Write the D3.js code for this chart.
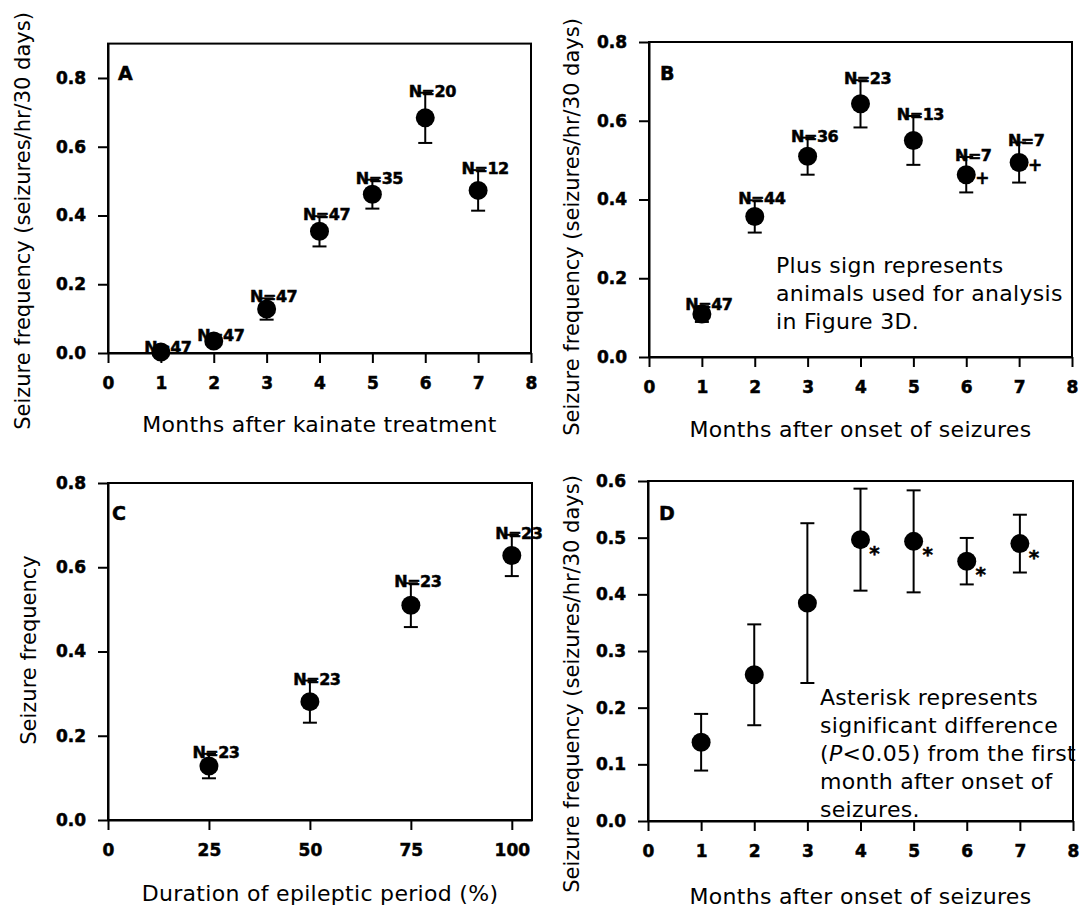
<!DOCTYPE html>
<html>
<head>
<meta charset="utf-8">
<script src="https://cdn.jsdelivr.net/npm/d3@7"></script>
<style>
  body { margin: 0; background: #fff; }
  svg { display: block; font-family: "DejaVu Sans", sans-serif; }
</style>
</head>
<body>
<svg id="chart" width="1082" height="914"></svg>
<script>
// panel A: months after kainate treatment
var monthsA = [1, 2, 3, 4, 5, 6, 7];
var meanA = [0.003, 0.035, 0.128, 0.354, 0.462, 0.684, 0.473];
var semA = [0.008, 0.012, 0.031, 0.044, 0.042, 0.073, 0.059];
var nA = [47, 47, 47, 47, 35, 20, 12];

// panel B: months after onset of seizures
var monthsB = [1, 2, 3, 4, 5, 6, 7];
var meanB = [0.109, 0.357, 0.51, 0.643, 0.55, 0.463, 0.494];
var semB = [0.02, 0.041, 0.047, 0.06, 0.062, 0.045, 0.051];
var nB = [47, 44, 36, 23, 13, 7, 7];
var plusB = [6, 7];

// panel C: duration of epileptic period (%)
var durationC = [25, 50, 75, 100];
var meanC = [0.128, 0.281, 0.51, 0.628];
var semC = [0.029, 0.05, 0.052, 0.049];
var nC = [23, 23, 23, 23];

// panel D: months after onset (selected animals)
var monthsD = [1, 2, 3, 4, 5, 6, 7];
var meanD = [0.139, 0.258, 0.3845, 0.4965, 0.4935, 0.4585, 0.4895];
var semD = [0.05, 0.089, 0.141, 0.09, 0.09, 0.041, 0.051];
var starD = [4, 5, 6, 7];

var ticksMonths = [0, 1, 2, 3, 4, 5, 6, 7, 8];
var ticksDuration = [0, 25, 50, 75, 100];
var ticksY8 = [0, 0.2, 0.4, 0.6, 0.8];
var ticksY6 = [0, 0.1, 0.2, 0.3, 0.4, 0.5, 0.6];

var svg = d3.select("#chart");
var fmt = d3.format(".1f");

// bold labels in the scan are heavy, thicken them a bit
var heavy = function(sel) {
  sel.attr("font-weight", "bold").attr("stroke", "#000").attr("stroke-width", 0.5);
};

var panel = function(p) {
  var x = d3.scaleLinear().domain(p.xDomain).range([p.left, p.right]);
  var y = d3.scaleLinear().domain(p.yDomain).range([p.bottom, p.top]);
  var g = svg.append("g");

  g.append("rect")
    .attr("x", p.left).attr("y", p.top)
    .attr("width", p.right - p.left).attr("height", p.bottom - p.top)
    .attr("fill", "none").attr("stroke", "#000").attr("stroke-width", 2);

  var xa = g.append("g").attr("transform", "translate(0," + p.bottom + ")")
    .call(d3.axisBottom(x).tickValues(p.xTicks).tickSize(10).tickSizeOuter(0).tickPadding(14));
  var ya = g.append("g").attr("transform", "translate(" + p.left + ",0)")
    .call(d3.axisLeft(y).tickValues(p.yTicks).tickFormat(fmt).tickSize(10).tickSizeOuter(0).tickPadding(12));
  [xa, ya].forEach(function(a) {
    a.attr("font-family", "DejaVu Sans").attr("font-size", 17);
    a.selectAll("path, line").attr("stroke", "#000").attr("stroke-width", 2);
    a.selectAll("text").attr("fill", "#000").call(heavy);
  });

  var pts = p.xs.map(function(d, i) {
    return { x: d, m: p.mean[i], e: p.sem[i], n: p.n ? p.n[i] : null };
  });

  var eb = g.selectAll(".eb").data(pts).enter().append("g");
  eb.append("line")
    .attr("x1", function(d) { return x(d.x) }).attr("x2", function(d) { return x(d.x) })
    .attr("y1", function(d) { return y(d.m - d.e) }).attr("y2", function(d) { return y(d.m + d.e) })
    .attr("stroke", "#000").attr("stroke-width", 2);
  [-1, 1].forEach(function(s) {
    eb.append("line")
      .attr("x1", function(d) { return x(d.x) - 7 }).attr("x2", function(d) { return x(d.x) + 7 })
      .attr("y1", function(d) { return y(d.m + s * d.e) }).attr("y2", function(d) { return y(d.m + s * d.e) })
      .attr("stroke", "#000").attr("stroke-width", 2);
  });
  g.selectAll(".pt").data(pts).enter().append("circle")
    .attr("cx", function(d) { return x(d.x) })
    .attr("cy", function(d) { return y(d.m) })
    .attr("r", 9.5).attr("fill", "#000");

  if (p.n) {
    g.selectAll(".nl").data(pts).enter().append("text")
      .attr("x", function(d) { return x(d.x) + 7 })
      .attr("y", function(d) { return y(d.m + d.e) + 4 })
      .attr("text-anchor", "middle").attr("font-size", 16)
      .attr("letter-spacing", -0.5)
      .call(heavy)
      .text(function(d) { return "N=" + d.n });
  }

  if (p.marks) {
    g.selectAll(".mk").data(pts.filter(function(d) { return p.marks.indexOf(d.x) >= 0 })).enter()
      .append("text")
      .attr("x", function(d) { return x(d.x) + p.markDx })
      .attr("y", function(d) { return y(d.m) + p.markDy })
      .attr("text-anchor", "middle").attr("font-size", p.markSize)
      .call(heavy)
      .text(p.markText);
  }

  g.append("text").attr("x", p.letterX).attr("y", p.letterY)
    .attr("font-size", 19).call(heavy).text(p.letter);

  g.append("text").attr("x", (p.left + p.right) / 2).attr("y", p.xTitleY)
    .attr("text-anchor", "middle").attr("font-size", 22).attr("letter-spacing", 0.3)
    .text(p.xTitle);

  g.append("text")
    .attr("transform", "translate(" + p.yTitleX + "," + p.yTitleY + ") rotate(-90)")
    .attr("text-anchor", "middle").attr("font-size", 21).text(p.yTitle);

  if (p.note) {
    var t = g.append("text").attr("font-size", 22).attr("letter-spacing", 0.3);
    p.note.forEach(function(line, i) {
      var ts = t.append("tspan").attr("x", p.noteX).attr("y", p.noteY + i * 28);
      if (Array.isArray(line)) {
        line.forEach(function(seg) {
          ts.append("tspan").attr("font-style", seg.italic ? "italic" : null).text(seg.t);
        });
      } else {
        ts.text(line);
      }
    });
  }
};

var yLong = "Seizure frequency (seizures/hr/30 days)";

panel({
  left: 108, right: 531, top: 43.6, bottom: 353,
  xDomain: [0, 8], yDomain: [0, 0.9], xTicks: ticksMonths, yTicks: ticksY8,
  xs: monthsA, mean: meanA, sem: semA, n: nA,
  letter: "A", letterX: 118, letterY: 80,
  xTitle: "Months after kainate treatment", xTitleY: 432,
  yTitle: yLong, yTitleX: 30, yTitleY: 221
});

panel({
  left: 649, right: 1072, top: 42, bottom: 357,
  xDomain: [0, 8], yDomain: [0, 0.8], xTicks: ticksMonths, yTicks: ticksY8,
  xs: monthsB, mean: meanB, sem: semB, n: nB,
  marks: plusB, markText: "+", markDx: 16, markDy: 9, markSize: 17,
  letter: "B", letterX: 660, letterY: 80,
  xTitle: "Months after onset of seizures", xTitleY: 437,
  yTitle: yLong, yTitleX: 579, yTitleY: 227,
  note: ["Plus sign represents", "animals used for analysis", "in Figure 3D."],
  noteX: 776, noteY: 273
});

panel({
  left: 108, right: 532, top: 483, bottom: 820,
  xDomain: [0, 105], yDomain: [0, 0.8], xTicks: ticksDuration, yTicks: ticksY8,
  xs: durationC, mean: meanC, sem: semC, n: nC,
  letter: "C", letterX: 112, letterY: 520,
  xTitle: "Duration of epileptic period (%)", xTitleY: 901,
  yTitle: "Seizure frequency", yTitleX: 36, yTitleY: 650
});

panel({
  left: 648, right: 1073, top: 481, bottom: 821,
  xDomain: [0, 8], yDomain: [0, 0.6], xTicks: ticksMonths, yTicks: ticksY6,
  xs: monthsD, mean: meanD, sem: semD,
  marks: starD, markText: "*", markDx: 14, markDy: 20, markSize: 20,
  letter: "D", letterX: 659, letterY: 520,
  xTitle: "Months after onset of seizures", xTitleY: 904,
  yTitle: yLong, yTitleX: 579, yTitleY: 684,
  note: ["Asterisk represents", "significant difference",
         [{ t: "(" }, { t: "P", italic: true }, { t: "<0.05) from the first" }],
         "month after onset of", "seizures."],
  noteX: 820, noteY: 705
});
</script>
</body>
</html>
